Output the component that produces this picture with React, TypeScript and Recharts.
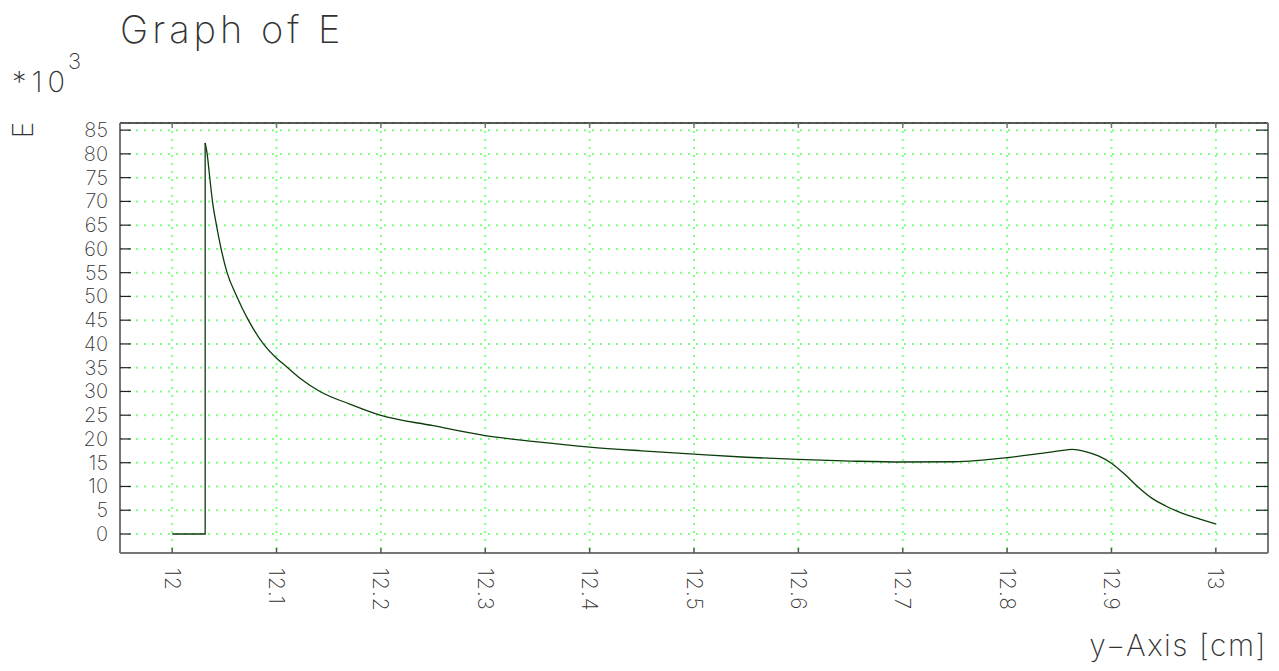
import React from "react";
import { CartesianGrid, Line, LineChart, XAxis, YAxis } from "recharts";

// y position along the device [cm]
const positions = [
  12, 12.0316, 12.0316, 12.0335, 12.036, 12.0386, 12.0424, 12.0469, 12.0526,
  12.0619, 12.073, 12.0874, 12.1, 12.108, 12.1225, 12.1416, 12.17, 12.2,
  12.25, 12.3, 12.35, 12.4, 12.45, 12.5, 12.55, 12.6, 12.65, 12.7, 12.75,
  12.8, 12.83, 12.85, 12.8625, 12.875, 12.888, 12.9, 12.9135, 12.926, 12.939,
  12.952, 12.968, 12.984, 13,
];
// E in units of 10^3
const fieldE = [
  0, 0, 82.3, 80, 75, 70, 65, 60, 55, 50, 45, 40, 37.0, 35.5, 32.8, 30, 27.35,
  24.95, 22.8, 20.7, 19.4, 18.3, 17.5, 16.8, 16.15, 15.7, 15.35, 15.15, 15.2,
  16.05, 16.9, 17.5, 17.8, 17.35, 16.4, 14.9, 12.4, 9.8, 7.5, 5.9, 4.35, 3.2,
  2.1,
];
const xTicks = [12, 12.1, 12.2, 12.3, 12.4, 12.5, 12.6, 12.7, 12.8, 12.9, 13];
const yTicks = [0, 5, 10, 15, 20, 25, 30, 35, 40, 45, 50, 55, 60, 65, 70, 75, 80, 85];

const data = positions.map((x, i) => ({ x, e: fieldE[i] }));
// the jump is drawn straight, the decay after it as a smooth curve
const jumpData = data.slice(0, 3);
const decayData = data.slice(2);

const W = 1279;
const H = 671;
const plotLeft = 120;
const plotRight = 1268;
const plotTop = 123;
const plotBottom = 553;
// each axis takes 1px, so the margins are 1px short of the plot box
const margin = {
  top: plotTop - 1,
  right: W - plotRight - 1,
  bottom: H - plotBottom - 1,
  left: plotLeft - 1,
};

const FONT = "Inter, 'DejaVu Sans', sans-serif";
const TEXT = "#333";
const CURVE = "#0b3d0b";

const fmt = (v: number) => String(Math.round(v * 10) / 10);

function BottomTick({ x, payload }: any) {
  return (
    <g>
      <line x1={x} x2={x} y1={plotBottom} y2={plotBottom - 5} stroke="#555" strokeWidth={1.5} />
      <text
        transform={`translate(${x}, ${plotBottom + 15}) rotate(90)`}
        textAnchor="start"
        dominantBaseline="central"
        fontSize={21}
        fontWeight={200}
        fill={TEXT}
        fontFamily={FONT}
        letterSpacing={1}
      >
        {fmt(payload.value)}
      </text>
    </g>
  );
}

function TopTick({ x }: any) {
  return <line x1={x} x2={x} y1={plotTop} y2={plotTop + 5} stroke="#777" strokeWidth={1.5} />;
}

function LeftTick({ y, payload }: any) {
  return (
    <g>
      <line x1={plotLeft} x2={plotLeft + 11} y1={y} y2={y} stroke="#222" strokeWidth={1.2} />
      <text
        x={plotLeft - 12}
        y={y}
        textAnchor="end"
        dominantBaseline="central"
        fontSize={20}
        fontWeight={200}
        fill={TEXT}
        fontFamily={FONT}
      >
        {payload.value}
      </text>
    </g>
  );
}

function RightTick({ y }: any) {
  return <line x1={plotRight} x2={plotRight - 12} y1={y} y2={y} stroke="#222" strokeWidth={1.2} />;
}

export default function App() {
  return (
    <div
      style={{
        position: "absolute",
        left: 0,
        top: 0,
        width: W,
        height: H,
        background: "#fff",
        fontFamily: FONT,
        fontWeight: 200,
        color: TEXT,
      }}
    >
      <div style={{ position: "absolute", left: 120, top: 6, fontSize: 38, letterSpacing: 4, lineHeight: "46px" }}>
        Graph of E
      </div>
      <div style={{ position: "absolute", left: 12, top: 64, fontSize: 29, lineHeight: "36px", letterSpacing: 5 }}>
        *10
      </div>
      <div style={{ position: "absolute", left: 68, top: 48, fontSize: 22, lineHeight: "26px" }}>3</div>
      <div
        style={{
          position: "absolute",
          left: 12,
          top: 116,
          width: 22,
          height: 28,
          fontSize: 28,
          lineHeight: "28px",
          textAlign: "center",
          transform: "rotate(-90deg)",
          transformOrigin: "center",
        }}
      >
        E
      </div>
      <div style={{ position: "absolute", right: 12, top: 626, fontSize: 30, lineHeight: "38px", letterSpacing: 1.5 }}>
        y−Axis [cm]
      </div>
      <LineChart width={W} height={H} margin={margin} style={{ position: "absolute", left: 0, top: 0 }}>
        <CartesianGrid
          xAxisId="b"
          yAxisId="l"
          stroke="#80ff80"
          strokeWidth={2}
          strokeDasharray="2 6"
        />
        <XAxis
          xAxisId="b"
          dataKey="x"
          type="number"
          domain={[11.95, 13.05]}
          ticks={xTicks}
          allowDataOverflow
          height={1}
          tickLine={false}
          axisLine={{ stroke: "#777", strokeWidth: 2 }}
          tick={<BottomTick />}
          interval={0}
        />
        <XAxis
          xAxisId="t"
          orientation="top"
          dataKey="x"
          type="number"
          domain={[11.95, 13.05]}
          ticks={xTicks}
          allowDataOverflow
          height={1}
          tickLine={false}
          axisLine={{ stroke: "#222", strokeWidth: 1.5 }}
          tick={<TopTick />}
          interval={0}
        />
        <YAxis
          yAxisId="l"
          type="number"
          domain={[-4, 86.5]}
          ticks={yTicks}
          allowDataOverflow
          width={1}
          tickLine={false}
          axisLine={{ stroke: "#777", strokeWidth: 2 }}
          tick={<LeftTick />}
          interval={0}
        />
        <YAxis
          yAxisId="r"
          orientation="right"
          type="number"
          domain={[-4, 86.5]}
          ticks={yTicks}
          allowDataOverflow
          width={1}
          tickLine={false}
          axisLine={{ stroke: "#777", strokeWidth: 2 }}
          tick={<RightTick />}
          interval={0}
        />
        <Line
          xAxisId="b"
          yAxisId="l"
          data={jumpData}
          dataKey="e"
          type="linear"
          stroke={CURVE}
          strokeWidth={1.3}
          dot={false}
          isAnimationActive={false}
        />
        <Line
          xAxisId="b"
          yAxisId="l"
          data={decayData}
          dataKey="e"
          type="monotone"
          stroke={CURVE}
          strokeWidth={1.3}
          dot={false}
          isAnimationActive={false}
        />
      </LineChart>
    </div>
  );
}
